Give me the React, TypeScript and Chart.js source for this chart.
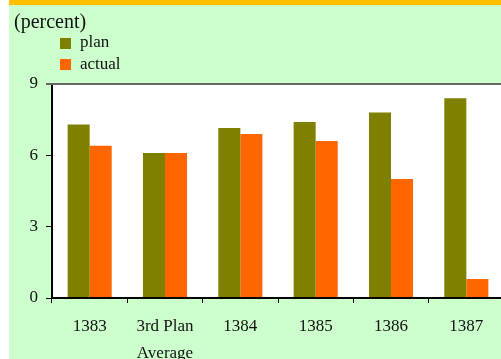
import React, { useEffect, useRef } from "react";
import { Chart, registerables } from "chart.js";

Chart.register(...registerables);

const categories: (string | string[])[] = ["1383", ["3rd Plan", "Average"], "1384", "1385", "1386", "1387"];
const seriesNames = ["plan", "actual"];
const planValues = [7.3, 6.1, 7.15, 7.4, 7.8, 8.4];
const actualValues = [6.4, 6.1, 6.9, 6.6, 5.0, 0.8];
const seriesColors = ["#808000", "#ff6600"];
const yMin = 0;
const yMax = 9;
const yStep = 3;
const unitLabel = "(percent)";

const FONT = "'Liberation Serif', 'Times New Roman', serif";

const decor = {
  id: "decor",
  beforeDraw(chart: any) {
    const { ctx, width, height, chartArea: a } = chart;
    ctx.save();
    ctx.fillStyle = "#ccffcc";
    ctx.fillRect(0, 0, width, height);
    ctx.fillStyle = "#ffc000";
    ctx.fillRect(0, 0, width, 5);
    ctx.fillStyle = "#ffffff";
    ctx.fillRect(a.left, a.top, a.right - a.left, a.bottom - a.top);
    ctx.strokeStyle = "#999999";
    ctx.lineWidth = 1;
    ctx.strokeRect(a.left + 0.5, a.top + 0.5, a.right - a.left - 1, a.bottom - a.top - 1);
    ctx.restore();
  },
  afterDraw(chart: any) {
    const { ctx, chartArea: a } = chart;
    ctx.save();
    ctx.strokeStyle = "#666666";
    ctx.lineWidth = 2;
    ctx.beginPath();
    ctx.moveTo(a.left - 6, a.top);
    ctx.lineTo(a.right, a.top);
    ctx.stroke();

    ctx.fillStyle = "#111111";
    ctx.textBaseline = "alphabetic";
    ctx.textAlign = "left";
    ctx.font = `20px ${FONT}`;
    ctx.fillText(unitLabel, 5, 28);

    ctx.font = `17px ${FONT}`;
    chart.data.datasets.forEach((ds: any, i: number) => {
      const sy = 38 + i * 21;
      ctx.fillStyle = ds.backgroundColor;
      ctx.fillRect(51, sy, 11, 11);
      ctx.fillStyle = "#111111";
      ctx.fillText(ds.label, 71, 47 + i * 22);
    });
    ctx.restore();
  },
};

export default function App() {
  const ref = useRef<HTMLCanvasElement | null>(null);

  useEffect(() => {
    if (!ref.current) return;
    const chart = new Chart(ref.current, {
      type: "bar",
      data: {
        labels: categories as any,
        datasets: [
          { label: seriesNames[0], data: planValues, backgroundColor: seriesColors[0], borderWidth: 0 },
          { label: seriesNames[1], data: actualValues, backgroundColor: seriesColors[1], borderWidth: 0 },
        ],
      },
      options: {
        responsive: false,
        animation: false,
        devicePixelRatio: 1,
        layout: { padding: { top: 84, left: 0, right: 0, bottom: 0 } },
        plugins: {
          legend: { display: false },
          title: { display: false },
          tooltip: { enabled: false },
        },
        datasets: {
          bar: { categoryPercentage: 0.585, barPercentage: 1 },
        },
        scales: {
          x: {
            offset: true,
            grid: {
              offset: true,
              drawOnChartArea: false,
              drawTicks: true,
              tickLength: 5,
              color: "#000000",
              lineWidth: 1,
            },
            border: { display: true, color: "#000000", width: 2, z: 1 },
            ticks: {
              color: "#111111",
              font: { family: FONT, size: 17, lineHeight: 1.6 },
              padding: 10,
              maxRotation: 0,
              autoSkip: false,
            },
            afterFit: (s: any) => {
              s.height = 61;
            },
          },
          y: {
            min: yMin,
            max: yMax,
            grid: {
              drawOnChartArea: false,
              drawTicks: true,
              tickLength: 6,
              color: (c: any) => (c.tick && c.tick.value === yMax ? "#666666" : "#000000"),
              lineWidth: 1,
            },
            border: { display: true, color: "#000000", width: 2, z: 1 },
            ticks: {
              stepSize: yStep,
              color: "#111111",
              font: { family: FONT, size: 17 },
              padding: 8,
            },
            afterFit: (s: any) => {
              s.width = 43;
            },
          },
        },
      },
      plugins: [decor],
    });
    return () => chart.destroy();
  }, []);

  return (
    <div
      style={{
        position: "fixed",
        left: 0,
        top: 0,
        width: 501,
        height: 359,
        overflow: "hidden",
        background: "#ffffff",
      }}
    >
      <canvas
        ref={ref}
        width={495}
        height={359}
        style={{ position: "absolute", left: 9, top: 0, width: 495, height: 359 }}
      />
    </div>
  );
}
